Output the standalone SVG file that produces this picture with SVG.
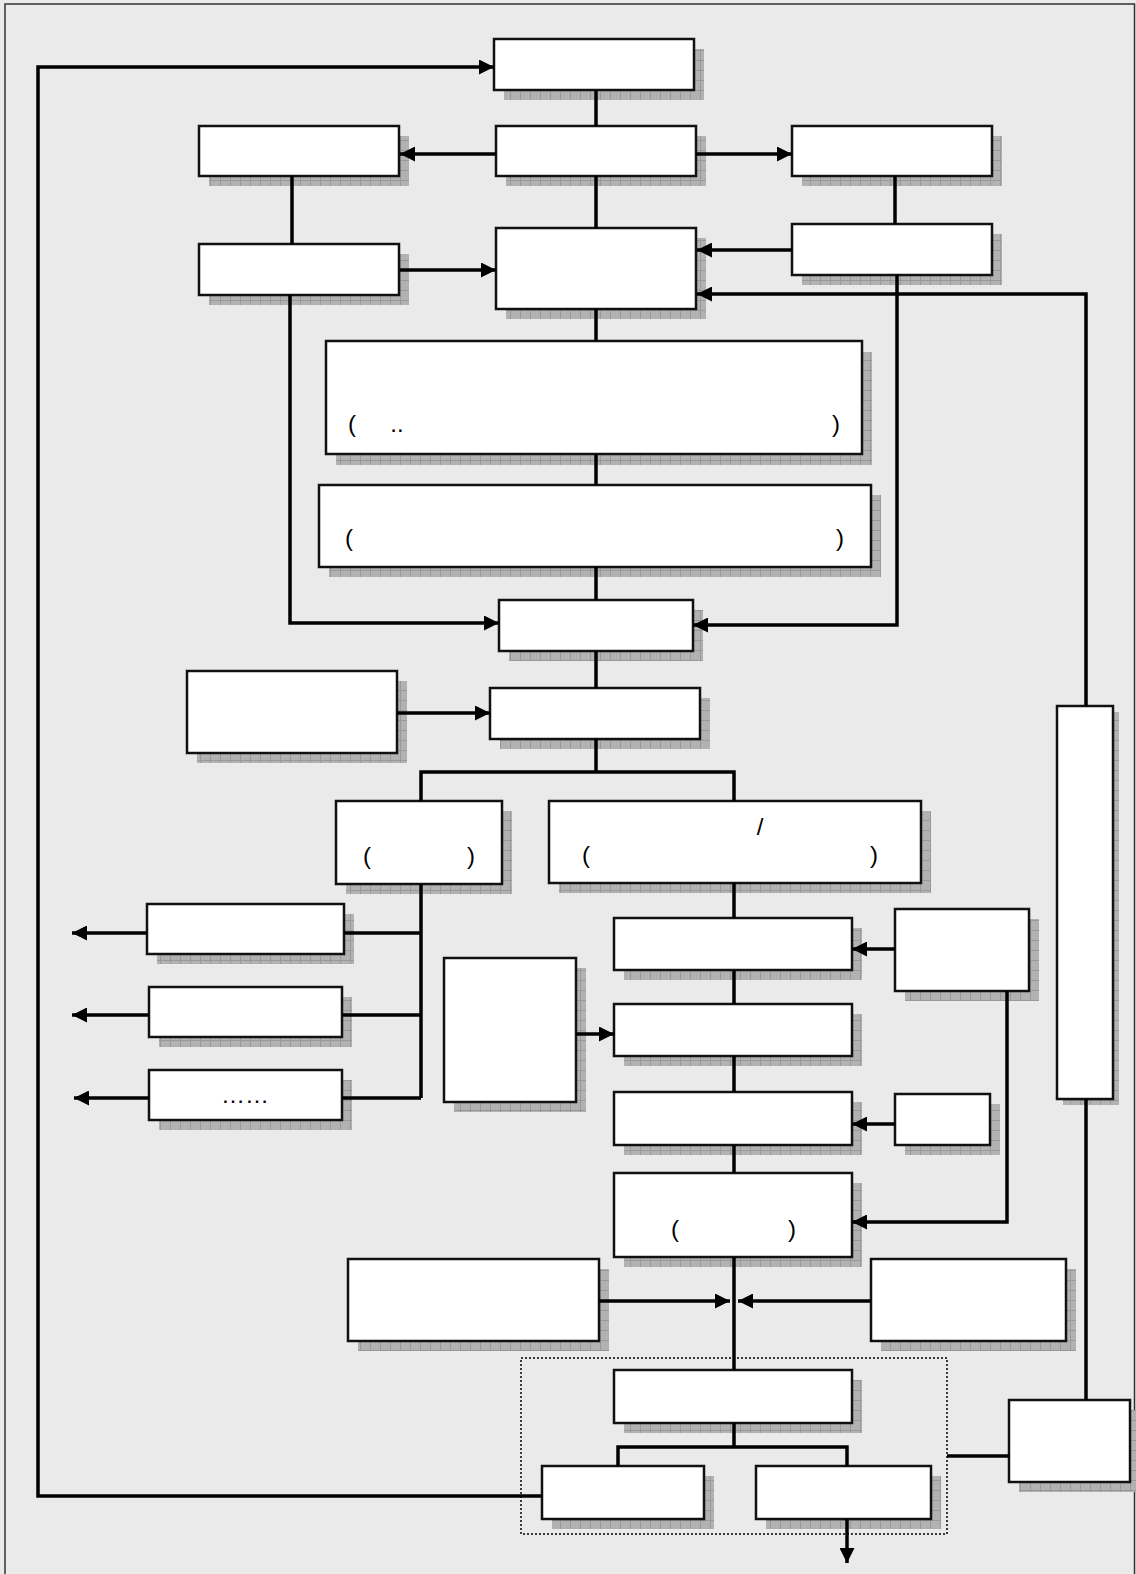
<svg xmlns="http://www.w3.org/2000/svg" width="1136" height="1574" viewBox="0 0 1136 1574">
<defs>
<pattern id="sh" width="10" height="10" patternUnits="userSpaceOnUse">
<rect width="10" height="10" fill="#b2b2b2"/>
<path d="M0 0.5H10M0.5 0V10" stroke="#999" stroke-width="1" fill="none"/>
</pattern>
<marker id="ar" viewBox="0 0 15 15" refX="15" refY="7.5" markerWidth="15" markerHeight="15" markerUnits="userSpaceOnUse" orient="auto">
<path d="M0,0 L15,7.5 L0,15 z" fill="#000"/>
</marker>
<style>
.bx{fill:#fff;stroke:#111;stroke-width:2.5}
.sd{fill:url(#sh)}
.ln{fill:none;stroke:#000;stroke-width:3.5}
.ar{marker-end:url(#ar)}
.tx{font-family:"Liberation Sans",Arial,sans-serif;font-size:24px;fill:#000;text-anchor:middle}
</style>
</defs>
<rect x="0" y="0" width="1136" height="1574" fill="#eaeaea"/>
<rect x="5" y="4" width="1129.5" height="1600" fill="none" stroke="#333" stroke-width="1.5"/>

<g id="nodes">
<g id="n-top"><rect class="sd" x="504" y="49" width="200" height="51"/><rect class="bx" x="494" y="39" width="200" height="51"/></g>
<g id="n-b"><rect class="sd" x="506" y="136" width="200" height="50"/><rect class="bx" x="496" y="126" width="200" height="50"/></g>
<g id="n-lb"><rect class="sd" x="209" y="136" width="200" height="50"/><rect class="bx" x="199" y="126" width="200" height="50"/></g>
<g id="n-rb"><rect class="sd" x="802" y="136" width="200" height="50"/><rect class="bx" x="792" y="126" width="200" height="50"/></g>
<g id="n-lc"><rect class="sd" x="209" y="254" width="200" height="51"/><rect class="bx" x="199" y="244" width="200" height="51"/></g>
<g id="n-c"><rect class="sd" x="506" y="238" width="200" height="81"/><rect class="bx" x="496" y="228" width="200" height="81"/></g>
<g id="n-rc"><rect class="sd" x="802" y="234" width="200" height="51"/><rect class="bx" x="792" y="224" width="200" height="51"/></g>
<g id="n-big1"><rect class="sd" x="336" y="352" width="536" height="113"/><rect class="bx" x="326" y="341" width="536" height="113"/>
<text class="tx" x="352" y="432">(</text><text class="tx" x="397" y="432" font-size="18">..</text><text class="tx" x="836" y="432">)</text></g>
<g id="n-big2"><rect class="sd" x="329" y="495" width="552" height="82"/><rect class="bx" x="319" y="485" width="552" height="82"/>
<text class="tx" x="349" y="546">(</text><text class="tx" x="840" y="546">)</text></g>
<g id="n-d"><rect class="sd" x="509" y="610" width="194" height="51"/><rect class="bx" x="499" y="600" width="194" height="51"/></g>
<g id="n-e"><rect class="sd" x="197" y="681" width="210" height="82"/><rect class="bx" x="187" y="671" width="210" height="82"/></g>
<g id="n-f"><rect class="sd" x="500" y="698" width="210" height="51"/><rect class="bx" x="490" y="688" width="210" height="51"/></g>
<g id="n-g"><rect class="sd" x="346" y="811" width="166" height="83"/><rect class="bx" x="336" y="801" width="166" height="83"/>
<text class="tx" x="367" y="864">(</text><text class="tx" x="471" y="864">)</text></g>
<g id="n-h"><rect class="sd" x="559" y="811" width="372" height="82"/><rect class="bx" x="549" y="801" width="372" height="82"/>
<text class="tx" x="760" y="835">/</text><text class="tx" x="586" y="863">(</text><text class="tx" x="874" y="863">)</text></g>
<g id="n-i1"><rect class="sd" x="157" y="914" width="197" height="50"/><rect class="bx" x="147" y="904" width="197" height="50"/></g>
<g id="n-i2"><rect class="sd" x="159" y="997" width="193" height="50"/><rect class="bx" x="149" y="987" width="193" height="50"/></g>
<g id="n-i3"><rect class="sd" x="159" y="1080" width="193" height="50"/><rect class="bx" x="149" y="1070" width="193" height="50"/>
<text class="tx" x="245" y="1103" font-size="22">……</text></g>
<g id="n-j"><rect class="sd" x="454" y="968" width="132" height="144"/><rect class="bx" x="444" y="958" width="132" height="144"/></g>
<g id="n-k"><rect class="sd" x="624" y="928" width="238" height="52"/><rect class="bx" x="614" y="918" width="238" height="52"/></g>
<g id="n-k2"><rect class="sd" x="905" y="919" width="134" height="82"/><rect class="bx" x="895" y="909" width="134" height="82"/></g>
<g id="n-l"><rect class="sd" x="624" y="1014" width="238" height="52"/><rect class="bx" x="614" y="1004" width="238" height="52"/></g>
<g id="n-m"><rect class="sd" x="624" y="1102" width="238" height="53"/><rect class="bx" x="614" y="1092" width="238" height="53"/></g>
<g id="n-m2"><rect class="sd" x="905" y="1104" width="95" height="51"/><rect class="bx" x="895" y="1094" width="95" height="51"/></g>
<g id="n-p"><rect class="sd" x="1063" y="712" width="56" height="393"/><rect class="bx" x="1057" y="706" width="56" height="393" stroke="#333"/></g>
<g id="n-n"><rect class="sd" x="624" y="1183" width="238" height="84"/><rect class="bx" x="614" y="1173" width="238" height="84"/>
<text class="tx" x="675" y="1237">(</text><text class="tx" x="792" y="1237">)</text></g>
<g id="n-o1"><rect class="sd" x="358" y="1269" width="251" height="82"/><rect class="bx" x="348" y="1259" width="251" height="82"/></g>
<g id="n-o2"><rect class="sd" x="881" y="1269" width="195" height="82"/><rect class="bx" x="871" y="1259" width="195" height="82"/></g>
<g id="n-group"><rect x="521" y="1358" width="426" height="176" fill="none" stroke="#000" stroke-width="1.5" stroke-dasharray="2,2"/></g>
<g id="n-r"><rect class="sd" x="624" y="1380" width="238" height="53"/><rect class="bx" x="614" y="1370" width="238" height="53"/></g>
<g id="n-s1"><rect class="sd" x="552" y="1476" width="162" height="53"/><rect class="bx" x="542" y="1466" width="162" height="53"/></g>
<g id="n-s2"><rect class="sd" x="766" y="1476" width="175" height="53"/><rect class="bx" x="756" y="1466" width="175" height="53"/></g>
<g id="n-q"><rect class="sd" x="1019" y="1410" width="121" height="82"/><rect class="bx" x="1009" y="1400" width="121" height="82"/></g>
</g>

<g id="connectors">
<polyline class="ln ar" points="542,1496 38,1496 38,67 494,67"/>
<line class="ln" x1="596" y1="90" x2="596" y2="126"/>
<line class="ln ar" x1="496" y1="154" x2="400" y2="154"/>
<line class="ln ar" x1="696" y1="154" x2="792" y2="154"/>
<line class="ln" x1="596" y1="176" x2="596" y2="228"/>
<line class="ln" x1="292" y1="176" x2="292" y2="244"/>
<line class="ln ar" x1="400" y1="270" x2="496" y2="270"/>
<line class="ln" x1="895" y1="176" x2="895" y2="224"/>
<line class="ln ar" x1="792" y1="250" x2="697" y2="250"/>
<polyline class="ln ar" points="1086,706 1086,294 697,294"/>
<line class="ln" x1="596" y1="309" x2="596" y2="341"/>
<line class="ln" x1="596" y1="454" x2="596" y2="485"/>
<line class="ln" x1="596" y1="567" x2="596" y2="600"/>
<polyline class="ln ar" points="290,295 290,623 499,623"/>
<polyline class="ln ar" points="897,275 897,625 693,625"/>
<line class="ln" x1="596" y1="651" x2="596" y2="688"/>
<line class="ln ar" x1="397" y1="713" x2="490" y2="713"/>
<line class="ln" x1="596" y1="739" x2="596" y2="772"/>
<polyline class="ln" points="421,801 421,772 734,772 734,801"/>
<line class="ln" x1="421" y1="884" x2="421" y2="1098"/>
<line class="ln" x1="344" y1="933" x2="421" y2="933"/>
<line class="ln" x1="342" y1="1015" x2="421" y2="1015"/>
<polyline class="ln" points="342,1098 421,1098"/>
<line class="ln ar" x1="147" y1="933" x2="72" y2="933"/>
<line class="ln ar" x1="149" y1="1015" x2="72" y2="1015"/>
<line class="ln ar" x1="149" y1="1098" x2="74" y2="1098"/>
<line class="ln" x1="734" y1="883" x2="734" y2="918"/>
<line class="ln" x1="734" y1="970" x2="734" y2="1004"/>
<line class="ln" x1="734" y1="1056" x2="734" y2="1092"/>
<line class="ln" x1="734" y1="1145" x2="734" y2="1173"/>
<line class="ln ar" x1="895" y1="949" x2="852" y2="949"/>
<line class="ln ar" x1="576" y1="1034" x2="614" y2="1034"/>
<line class="ln ar" x1="895" y1="1124" x2="852" y2="1124"/>
<polyline class="ln ar" points="1007,991 1007,1222 852,1222"/>
<line class="ln" x1="734" y1="1257" x2="734" y2="1370"/>
<line class="ln ar" x1="599" y1="1301" x2="730" y2="1301"/>
<line class="ln ar" x1="871" y1="1301" x2="738" y2="1301"/>
<line class="ln" x1="734" y1="1423" x2="734" y2="1447"/>
<polyline class="ln" points="618,1466 618,1447 847,1447 847,1466"/>
<line class="ln ar" x1="847" y1="1519" x2="847" y2="1563"/>
<line class="ln" x1="947" y1="1456" x2="1009" y2="1456"/>
<line class="ln" x1="1086" y1="1400" x2="1086" y2="1099"/>
</g>
</svg>
